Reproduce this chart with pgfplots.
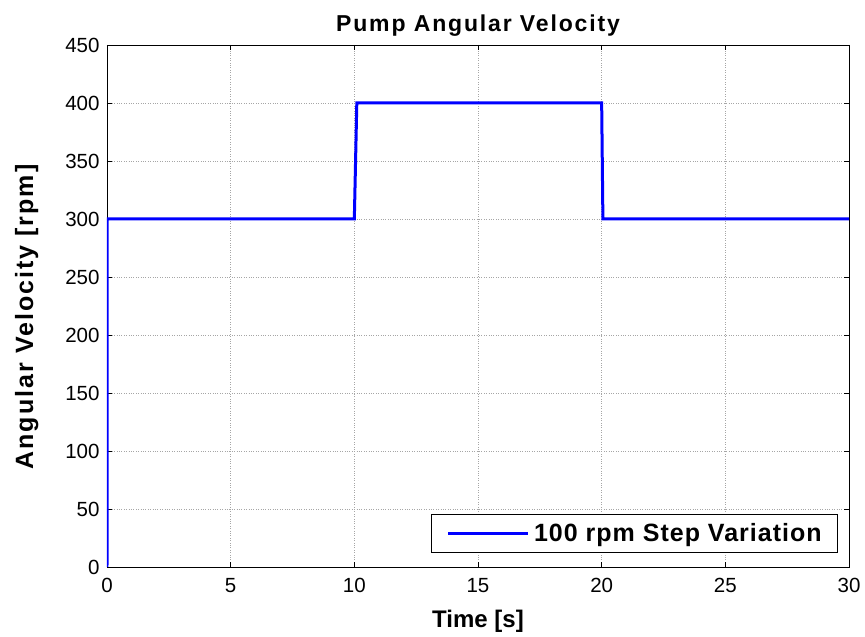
\documentclass[border=0pt]{standalone}
\usepackage{pgfplots}
\pgfplotsset{compat=1.18}
\usepackage{fontspec}
\setmainfont{Liberation Sans}
\newfontfamily\spacedA[LetterSpace=8]{Liberation Sans}
\newfontfamily\spacedB[LetterSpace=4]{Liberation Sans}
\begin{document}
\begin{tikzpicture}
\path[use as bounding box] (-107pt,-70pt) rectangle (758pt,567pt);
\begin{axis}[
  at={(0pt,0pt)}, anchor=south west,
  scale only axis, width=742pt, height=522pt,
  xmin=0, xmax=30, ymin=0, ymax=450,
  xtick={0,5,...,30}, ytick={0,50,...,450},
  tick align=inside, tick pos=both, major tick length=5pt,
  grid=major,
  major grid style={gray!70, dotted, line width=0.6pt},
  axis line style={black, line width=0.8pt},
  every tick/.style={black, line width=0.8pt},
  tick label style={font=\fontsize{20.5}{24}\selectfont},
  xticklabel style={yshift=-8pt},
  yticklabel style={xshift=-4pt},
  /pgf/number format/assume math mode=true,
  title={Pump Angular Velocity},
  title style={font=\fontsize{23}{27}\selectfont\spacedA\bfseries, at={(axis description cs:0.5,1)}, anchor=base, yshift=7pt},
  xlabel={\bfseries Time [s]},
  ylabel={Angular Velocity [rpm]},
  xlabel style={font=\fontsize{24}{28}\selectfont, at={(axis description cs:0.5,0)}, anchor=base, yshift=-60pt},
  ylabel style={font=\fontsize{25}{29}\selectfont\spacedA\bfseries, at={(axis description cs:-0.0997,0.479)}, anchor=base},
  legend style={at={(axis description cs:1,0)}, anchor=south east, xshift=-11pt, yshift=14pt,
    draw=black, line width=0.8pt, inner xsep=3pt, inner ysep=7.5pt,
    font=\fontsize{25}{29}\selectfont\spacedB\bfseries, legend cell align=left},
  legend image code/.code={\path[draw=none, fill=none] (0pt,-4pt) rectangle (98pt,4pt); \draw[#1, line width=3pt] (14pt,0pt) -- (94pt,0pt);},
]
\addplot[blue, line width=3pt] coordinates {
  (0,0) (0.01,300) (10,300) (10.1,400) (20,400) (20.05,300) (30,300)
};
\addlegendentry{100 rpm Step Variation\hspace*{11pt}}
\end{axis}
\end{tikzpicture}
\end{document}
